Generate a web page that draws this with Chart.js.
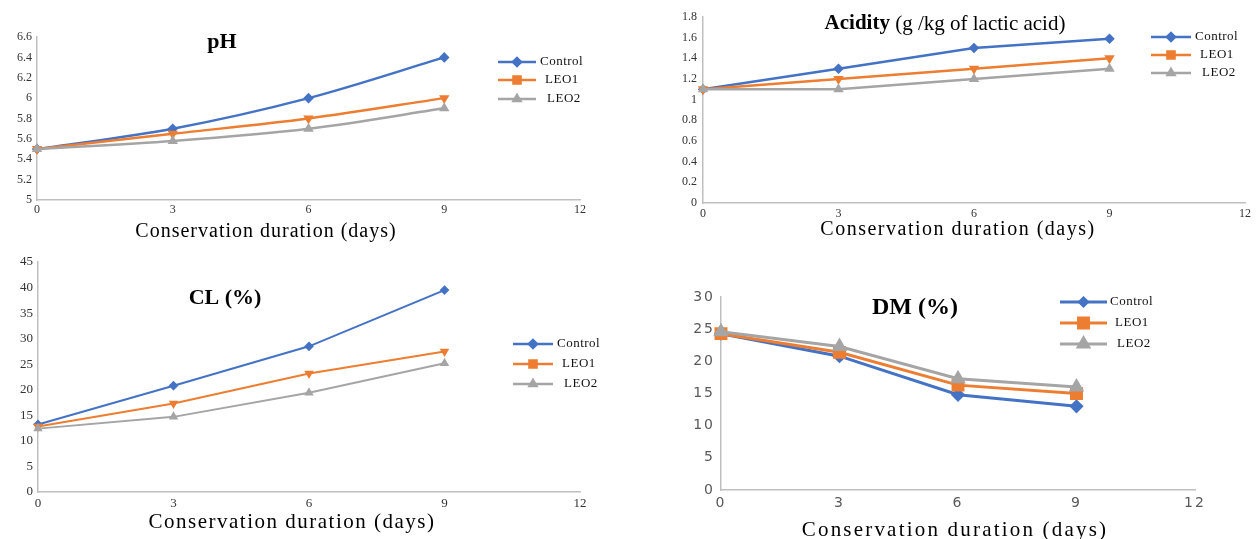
<!DOCTYPE html>
<html>
<head>
<meta charset="utf-8">
<script src="https://cdn.jsdelivr.net/npm/chart.js@4.4.1/dist/chart.umd.min.js"></script>
<style>
  body { margin: 0; background: #fff; width: 1260px; height: 539px; overflow: hidden; position: relative; }
  .panel { position: absolute; }
</style>
</head>
<body>
<div class="panel" style="left:0;top:0"><canvas id="phChart" width="630" height="250"></canvas></div>
<div class="panel" style="left:630px;top:0"><canvas id="acidChart" width="630" height="250"></canvas></div>
<div class="panel" style="left:0;top:250px"><canvas id="clChart" width="630" height="289"></canvas></div>
<div class="panel" style="left:630px;top:250px"><canvas id="dmChart" width="630" height="289"></canvas></div>

<script>
// days of conservation
const days = [0, 3, 6, 9];
const seriesNames = ["Control", "LEO1", "LEO2"];
const xTitle = "Conservation duration (days)";

// pH
const phControl = [5.5, 5.7, 6.0, 6.4];
const phLeo1 = [5.5, 5.65, 5.8, 6.0];
const phLeo2 = [5.5, 5.58, 5.7, 5.9];

// acidity (g/kg of lactic acid)
const acidControl = [1.1, 1.3, 1.5, 1.59];
const acidLeo1 = [1.1, 1.2, 1.3, 1.4];
const acidLeo2 = [1.1, 1.1, 1.2, 1.3];

// CL (%)
const clControl = [13.2, 20.8, 28.5, 39.5];
const clLeo1 = [12.8, 17.3, 23.2, 27.5];
const clLeo2 = [12.4, 14.7, 19.4, 25.2];

// DM (%)
const dmControl = [24.3, 20.8, 14.8, 13.0];
const dmLeo1 = [24.3, 21.4, 16.3, 15.0];
const dmLeo2 = [24.6, 22.3, 17.3, 16.0];

const colors = ["#4472C4", "#ED7D31", "#A5A5A5"];
const SERIF = "'Liberation Serif', 'DejaVu Serif', serif";
const SANS = "'DejaVu Sans', 'Liberation Sans', sans-serif";

// titles, x axis title and legend drawn on top of the plot
const panelText = {
  id: "panelText",
  beforeDraw(chart, args, opts) {
    chart.ctx.letterSpacing = opts.tickSpacing || "0px";
  },
  afterDraw(chart, args, opts) {
    const ctx = chart.ctx;
    ctx.save();
    ctx.textBaseline = "middle";
    ctx.fillStyle = "#000";

    // title (bold and normal parts)
    ctx.letterSpacing = "0px";
    const t = opts.title;
    let total = 0;
    const widths = t.parts.map(p => {
      ctx.font = (p[1] ? "bold " : "") + t.size + "px " + SERIF;
      const w = ctx.measureText(p[0]).width;
      total += w;
      return w;
    });
    let tx = t.x - total / 2;
    ctx.textAlign = "left";
    t.parts.forEach((p, i) => {
      ctx.font = (p[1] ? "bold " : "") + t.size + "px " + SERIF;
      ctx.fillText(p[0], tx, t.y);
      tx += widths[i];
    });

    // x axis title
    const xt = opts.xTitle;
    ctx.letterSpacing = xt.spacing + "px";
    ctx.font = xt.size + "px " + SERIF;
    ctx.textAlign = "center";
    ctx.fillText(xTitle, xt.x, xt.y);

    // legend
    const lg = opts.legend;
    ctx.letterSpacing = "0.5px";
    ctx.font = lg.size + "px " + SERIF;
    ctx.textAlign = "left";
    seriesNames.forEach((name, i) => {
      const y = lg.y[i];
      ctx.strokeStyle = colors[i];
      ctx.lineWidth = lg.lineWidth;
      ctx.beginPath();
      ctx.moveTo(lg.x, y);
      ctx.lineTo(lg.x + lg.len, y);
      ctx.stroke();
      ctx.fillStyle = colors[i];
      Chart.helpers.drawPoint(ctx, {
        pointStyle: lg.styles[i], radius: lg.radius[i], rotation: 0, borderWidth: 1
      }, lg.x + lg.len / 2, y);
      ctx.fillStyle = "#111";
      ctx.fillText(name, lg.x + lg.len + lg.textGap[i], y);
    });
    ctx.restore();
  }
};

const plainNumber = v => String(+v.toFixed(2));

function makePanel(id, cfg) {
  const sets = cfg.values.map((vals, i) => ({
    label: seriesNames[i],
    data: days.map((d, k) => ({ x: d, y: vals[k] })),
    borderColor: colors[i],
    backgroundColor: colors[i],
    pointBackgroundColor: colors[i],
    pointBorderColor: colors[i],
    borderWidth: cfg.lineWidth,
    pointStyle: cfg.pointStyles[i],
    rotation: cfg.rotations[i],
    pointRadius: cfg.pointRadius[i],
    cubicInterpolationMode: cfg.smooth ? "monotone" : "default",
    clip: false,
    order: 3 - i
  }));

  return new Chart(document.getElementById(id), {
    type: "line",
    data: { datasets: sets },
    plugins: [panelText],
    options: {
      responsive: false,
      animation: false,
      layout: { padding: { left: 0, top: cfg.area.top, right: cfg.area.right, bottom: 0 } },
      plugins: {
        legend: { display: false },
        tooltip: { enabled: false },
        panelText: cfg.text
      },
      scales: {
        x: {
          type: "linear",
          min: 0, max: 12,
          grid: { display: false, drawTicks: false },
          border: { color: "#bfbfbf", width: 1.5 },
          ticks: { stepSize: 3, padding: cfg.xPad, color: cfg.tickColor, font: cfg.tickFont },
          afterFit: s => { s.height = cfg.area.xHeight; s.paddingLeft = 0; s.paddingRight = 0; }
        },
        y: {
          min: cfg.yMin, max: cfg.yMax,
          grid: { display: false, drawTicks: false },
          border: { color: "#bfbfbf", width: 1.5 },
          ticks: { stepSize: cfg.yStep, padding: cfg.yPad, color: cfg.tickColor, font: cfg.tickFont, callback: plainNumber },
          afterFit: s => { s.width = cfg.area.left; s.paddingTop = 0; s.paddingBottom = 0; }
        }
      }
    }
  });
}

// pH
makePanel("phChart", {
  values: [phControl, phLeo1, phLeo2],
  yMin: 5, yMax: 6.6, yStep: 0.2,
  area: { left: 37, top: 37, right: 50, xHeight: 50 },
  xPad: 3, yPad: 5,
  tickColor: "#333", tickFont: { family: SERIF, size: 12 },
  lineWidth: 2.5,
  pointStyles: ["rectRot", "triangle", "triangle"],
  rotations: [0, 180, 0],
  pointRadius: [3.5, 3.5, 3.5],
  smooth: true,
  text: {
    title: { x: 222, y: 42, size: 22, parts: [["pH", true]] },
    xTitle: { x: 266, y: 232, size: 20, spacing: 1 },
    legend: { x: 498, len: 38, y: [62, 80, 99], size: 13, lineWidth: 2.5,
      styles: ["rectRot", "rect", "triangle"], radius: [4, 5, 4], textGap: [4, 9, 11] }
  }
});

// acidity
makePanel("acidChart", {
  values: [acidControl, acidLeo1, acidLeo2],
  yMin: 0, yMax: 1.8, yStep: 0.2,
  area: { left: 73, top: 17, right: 15, xHeight: 47 },
  xPad: 4, yPad: 6,
  tickColor: "#333", tickFont: { family: SERIF, size: 12 },
  lineWidth: 2.5,
  pointStyles: ["rectRot", "triangle", "triangle"],
  rotations: [0, 180, 0],
  pointRadius: [3.5, 3.5, 3.5],
  smooth: false,
  text: {
    title: { x: 315, y: 24, size: 21, parts: [["Acidity", true], [" (g /kg of lactic acid)", false]] },
    xTitle: { x: 328, y: 230, size: 20, spacing: 1.5 },
    legend: { x: 521, len: 40, y: [37, 55, 73], size: 13, lineWidth: 2.5,
      styles: ["rectRot", "rect", "triangle"], radius: [4, 5, 4], textGap: [4, 9, 11] }
  }
});

// CL
makePanel("clChart", {
  values: [clControl, clLeo1, clLeo2],
  yMin: 0, yMax: 45, yStep: 5,
  area: { left: 38, top: 12, right: 50, xHeight: 47 },
  xPad: 4, yPad: 5,
  tickColor: "#333", tickFont: { family: SERIF, size: 13 },
  lineWidth: 2,
  pointStyles: ["rectRot", "triangle", "triangle"],
  rotations: [0, 180, 0],
  pointRadius: [3.5, 3.5, 3.5],
  smooth: false,
  text: {
    title: { x: 225, y: 48, size: 22, parts: [["CL (%)", true]] },
    xTitle: { x: 292, y: 272, size: 21, spacing: 1.5 },
    legend: { x: 513, len: 40, y: [94, 114, 134], size: 13, lineWidth: 2.5,
      styles: ["rectRot", "rect", "triangle"], radius: [4, 5, 4], textGap: [4, 9, 11] }
  }
});

// DM
makePanel("dmChart", {
  values: [dmControl, dmLeo1, dmLeo2],
  yMin: 0, yMax: 30, yStep: 5,
  area: { left: 91, top: 47, right: 65, xHeight: 49 },
  xPad: 5, yPad: 6,
  tickColor: "#595959", tickFont: { family: SANS, size: 14 },
  lineWidth: 3,
  pointStyles: ["rectRot", "rect", "triangle"],
  rotations: [0, 0, 0],
  pointRadius: [5, 7, 6],
  smooth: false,
  text: {
    tickSpacing: "2px",
    title: { x: 285, y: 58, size: 24, parts: [["DM (%)", true]] },
    xTitle: { x: 325, y: 280, size: 21, spacing: 2.2 },
    legend: { x: 430, len: 47, y: [52, 73, 94], size: 13, lineWidth: 3,
      styles: ["rectRot", "rect", "triangle"], radius: [4, 7, 6], textGap: [3, 8, 10] }
  }
});
</script>
</body>
</html>
